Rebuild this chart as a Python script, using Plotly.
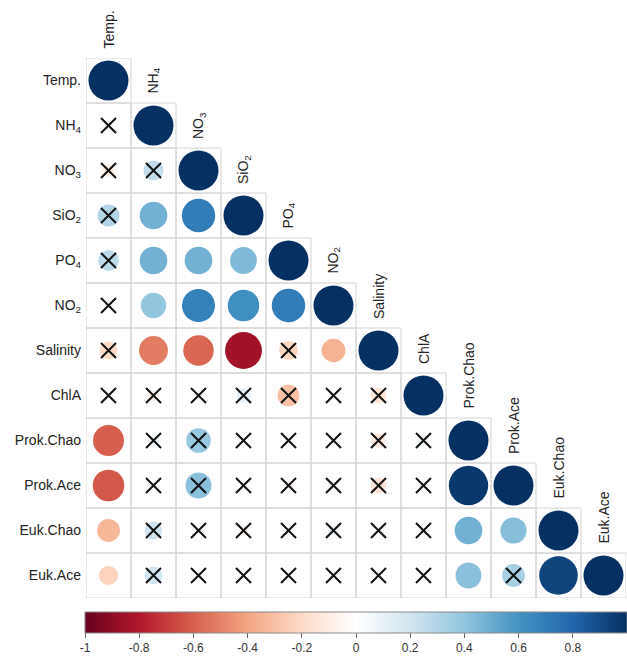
import numpy as np
import plotly.graph_objects as go

# Variables (row / column order of the correlation matrix)
variables = ["Temp.", "NH<sub>4</sub>", "NO<sub>3</sub>", "SiO<sub>2</sub>", "PO<sub>4</sub>",
             "NO<sub>2</sub>", "Salinity", "ChlA", "Prok.Chao", "Prok.Ace", "Euk.Chao", "Euk.Ace"]

# Lower triangle of the correlation matrix, row by row (diagonal included)
corr_lower = [
    [1.00],
    [0.05, 1.00],
    [-0.10, 0.25, 1.00],
    [0.30, 0.48, 0.70, 1.00],
    [0.27, 0.48, 0.48, 0.45, 1.00],
    [0.03, 0.40, 0.68, 0.62, 0.70, 1.00],
    [-0.20, -0.52, -0.58, -0.85, -0.22, -0.35, 1.00],
    [-0.03, -0.08, 0.04, 0.12, -0.30, -0.03, -0.15, 1.00],
    [-0.60, 0.08, 0.38, 0.02, -0.05, 0.02, -0.13, 0.08, 1.00],
    [-0.62, 0.03, 0.42, 0.02, -0.05, 0.03, -0.15, 0.05, 0.97, 1.00],
    [-0.33, 0.20, 0.02, -0.05, 0.02, 0.06, 0.02, 0.03, 0.48, 0.43, 1.00],
    [-0.23, 0.20, 0.02, 0.02, 0.02, 0.05, 0.02, 0.04, 0.42, 0.33, 0.93, 1.00],
]

# 1 = significant, 0 = not significant (crossed out)
significant = [
    [1],
    [0, 1],
    [0, 0, 1],
    [0, 1, 1, 1],
    [0, 1, 1, 1, 1],
    [0, 1, 1, 1, 1, 1],
    [0, 1, 1, 1, 0, 1, 1],
    [0, 0, 0, 0, 0, 0, 0, 1],
    [1, 0, 0, 0, 0, 0, 0, 0, 1],
    [1, 0, 0, 0, 0, 0, 0, 0, 1, 1],
    [1, 0, 0, 0, 0, 0, 0, 0, 1, 1, 1],
    [1, 0, 0, 0, 0, 0, 0, 0, 1, 0, 1, 1],
]

colorbar_ticks = [-1, -0.8, -0.6, -0.4, -0.2, 0, 0.2, 0.4, 0.6, 0.8, 1]
colorbar_labels = ["-1", "-0.8", "-0.6", "-0.4", "-0.2", "0", "0.2", "0.4", "0.6", "0.8", "1"]

rdbu = ["#67001F", "#B2182B", "#D6604D", "#F4A582", "#FDDBC7", "#FFFFFF",
        "#D1E5F0", "#92C5DE", "#4393C3", "#2166AC", "#053061"]
colorscale = [[i / 10, c] for i, c in enumerate(rdbu)]

FONT = "Liberation Sans, Arial, sans-serif"
n = len(variables)
CELL_PX = 45          # pixel size of one matrix cell
FULL_DIAM = 40        # circle diameter for |r| = 1

xs, ys, rs, sizes = [], [], [], []
xx, xy = [], []
for i, row in enumerate(corr_lower):
    for j, r in enumerate(row):
        xs.append(j)
        ys.append(i)
        rs.append(r)
        sizes.append(FULL_DIAM * np.sqrt(abs(r)))  # circle area proportional to |r|
        if not significant[i][j]:
            xx.append(j)
            xy.append(i)

fig = go.Figure()

# Cell borders of the lower triangle
shapes = []
for i in range(n):
    for j in range(i + 1):
        shapes.append(dict(type="rect", xref="x", yref="y",
                           x0=j - 0.5, x1=j + 0.5, y0=i - 0.5, y1=i + 0.5,
                           line=dict(color="#d4d4d4", width=1), layer="below"))

fig.add_trace(go.Scatter(
    x=xs, y=ys, mode="markers", hoverinfo="skip",
    marker=dict(size=sizes, color=rs, colorscale=colorscale, cmin=-1, cmax=1,
                line=dict(width=0), opacity=1,
                showscale=True,
                colorbar=dict(orientation="h", x=0.5, xanchor="center",
                              y=-0.026, yanchor="top", len=1.004, lenmode="fraction",
                              thickness=21, xpad=0, ypad=0,
                              outlinewidth=1, outlinecolor="#8a8a8a",
                              ticks="outside", ticklen=5, tickcolor="#666",
                              tickvals=colorbar_ticks, ticktext=colorbar_labels,
                              tickfont=dict(family=FONT, size=12, color="#333")))
))

# Crosses marking non-significant correlations
fig.add_trace(go.Scatter(
    x=xx, y=xy, mode="markers", hoverinfo="skip",
    marker=dict(symbol="x-thin", size=15, line=dict(color="#111", width=2))
))

# Column labels placed diagonally above each diagonal cell
annotations = []
for j, name in enumerate(variables):
    annotations.append(dict(x=j, y=j - 0.5, xref="x", yref="y", text=name,
                            textangle=-90, showarrow=False, xanchor="center",
                            yanchor="bottom", yshift=7,
                            font=dict(family=FONT, size=14, color="#222")))

fig.update_layout(
    width=627, height=664,
    margin=dict(l=86, r=1, t=58, b=66),
    paper_bgcolor="white", plot_bgcolor="white",
    showlegend=False,
    shapes=shapes, annotations=annotations,
    xaxis=dict(range=[-0.5, n - 0.5], showgrid=False, zeroline=False,
               showticklabels=False, showline=False, fixedrange=True),
    yaxis=dict(range=[n - 0.5, -0.5], showgrid=False, zeroline=False,
               tickvals=list(range(n)), ticktext=variables, showline=False,
               ticks="", ticklabelstandoff=4,
               tickfont=dict(family=FONT, size=14, color="#222"), fixedrange=True),
)

fig.write_html("out.html")
